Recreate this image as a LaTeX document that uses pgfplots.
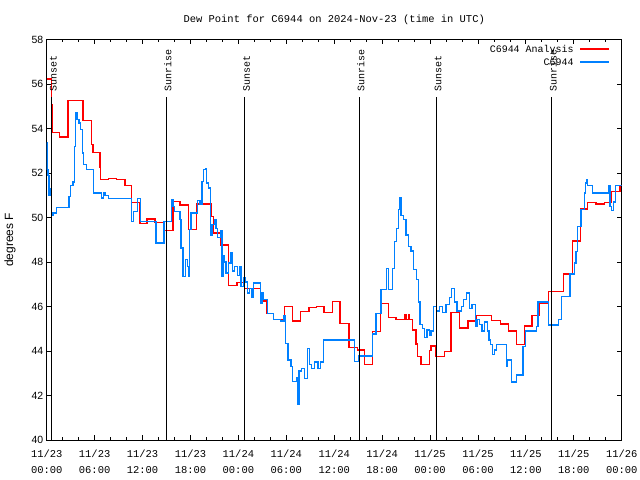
\documentclass[border=0pt]{standalone}
\usepackage{pgfplots}
\pgfplotsset{compat=1.18}
\usepackage{fontspec}
\setmainfont{Liberation Sans}
\newfontfamily\monofont{Liberation Mono}
\definecolor{obsblue}{RGB}{0,128,255}
\begin{document}
\begin{tikzpicture}
\path[use as bounding box] (0bp,0bp) rectangle (640bp,480bp);
\begin{axis}[
  at={(46.7bp,40bp)}, anchor=south west,
  scale only axis, width=575bp, height=400.5bp,
  xmin=0, xmax=72, ymin=40, ymax=58,
  xtick={0,6,...,72},
  xticklabels={{11/23\\00:00},{11/23\\06:00},{11/23\\12:00},{11/23\\18:00},{11/24\\00:00},{11/24\\06:00},{11/24\\12:00},{11/24\\18:00},{11/25\\00:00},{11/25\\06:00},{11/25\\12:00},{11/25\\18:00},{11/26\\00:00}},
  xticklabel style={font=\monofont\fontsize{10.5}{16}\selectfont, align=center, yshift=-6bp},
  minor x tick num=2,
  ytick={40,42,...,58},
  yticklabel style={font=\fontsize{10.5}{12}\selectfont},
  /pgf/number format/assume math mode=true,
  tick align=inside,
  major tick length=5bp, minor tick length=3bp,
  tick style={black, line width=0.8bp},
  axis line style={black, line width=1bp},
  ylabel={degrees F},
  ylabel style={font=\fontsize{12}{14}\selectfont, at={(axis description cs:-0.0638,0.5)}, anchor=center},
  title={Dew Point for C6944 on 2024-Nov-23 (time in UTC)},
  title style={font=\monofont\fontsize{10.5}{12}\selectfont, at={(axis description cs:0.5,1)}, anchor=center, yshift=13.5bp},
  legend style={at={(axis description cs:0.9797,0.989)}, anchor=north east, draw=none, fill=none,
    inner sep=0pt, row sep=3bp, column sep=6bp,
    font=\monofont\fontsize{10}{12}\selectfont,
    nodes={inner sep=0pt, text height=8bp, text depth=2bp}},
  legend cell align=right,
  legend plot pos=right,
  legend image code/.code={\draw[#1] (0bp,0bp) -- (29bp,0bp);},
]
\addplot[red, line width=1.3bp, const plot] coordinates {
(0,56.23) (0.6,55.07) (0.72,53.83) (1.63,53.62) (2.68,55.27) (4.56,54.35) (5.6,53.27) (5.8,52.93)
(6.66,52.27) (6.75,51.7) (7.7,51.74) (8.75,51.7) (9.8,51.43) (10.64,50.68) (11.69,49.72) (12.57,49.93)
(13.57,49.76) (14.6,49.4) (15.8,50.72) (16.7,50.56) (17.76,49.45) (18.72,50.6) (20.57,50.05) (20.9,49.3)
(21.74,48.77) (22.8,46.93) (23.84,47.08) (24.75,46.8) (26.77,46.25) (27.6,45.7) (28.44,45.4) (29.78,46.0)
(30.79,45.35) (31.79,45.79) (32.84,45.97) (33.8,46.0) (34.72,45.73) (35.77,46.23) (36.73,45.25) (37.86,44.17)
(38.92,44.05) (39.75,43.38) (40.8,44.87) (41.76,46.12) (42.76,45.5) (43.73,45.4) (44.77,45.65) (44.99,45.4)
(45.3,45.65) (45.45,45.4) (45.83,44.95) (46.24,44.32) (46.45,43.75) (46.87,43.38) (47.9,44.03) (48.13,44.23)
(48.76,43.75) (49.8,43.97) (50.64,45.73) (51.69,45.03) (52.74,45.35) (53.78,45.58) (55.67,45.37) (56.84,45.22)
(57.84,44.9) (58.81,44.3) (59.85,45.13) (60.78,45.6) (61.74,46.15) (62.79,46.68) (64.75,47.46) (65.8,48.95)
(66.85,50.38) (67.73,50.68) (68.77,50.6) (69.83,50.68) (70.75,51.17) (71.8,51.43) (72,51.43)
};
\addlegendentry{C6944 Analysis}
\addplot[obsblue, line width=1.3bp, const plot] coordinates {
(0,53.35) (0.04,52.15) (0.15,51.9) (0.3,51.0) (0.45,51.3) (0.59,50.1) (0.8,50.2) (1.21,50.45)
(2.8,50.95) (2.97,51.43) (3.3,51.6) (3.52,53.2) (3.64,54.7) (3.81,54.4) (4.06,54.25) (4.23,53.95)
(4.48,52.9) (4.65,52.37) (4.98,52.15) (5.82,51.1) (6.87,50.87) (7.08,51.1) (7.3,51.0) (7.7,50.84)
(10.64,49.82) (10.85,50.28) (11.35,50.84) (11.77,49.82) (13.7,48.85) (14.7,49.82) (15.67,50.8) (15.8,50.5)
(15.96,50.28) (16.71,49.9) (16.8,48.63) (17.05,47.35) (17.34,48.1) (17.6,47.8) (17.76,47.35) (17.88,49.45)
(18.06,50.2) (18.89,50.75) (19.2,50.6) (19.44,51.62) (19.65,52.15) (19.85,52.2) (19.98,51.55) (20.27,51.33)
(20.48,49.2) (20.7,49.7) (20.99,49.9) (21.2,49.5) (21.4,49.1) (21.74,49.4) (21.95,47.35) (22.1,48.3)
(22.24,48.0) (22.46,47.5) (22.79,47.95) (23.08,48.4) (23.3,47.6) (23.5,47.8) (23.92,47.4) (24.1,47.8)
(24.34,46.9) (24.6,47.3) (24.88,47.1) (25.1,46.6) (25.42,46.8) (25.7,46.4) (25.93,47.05) (26.77,46.15)
(26.95,46.6) (27.18,46.3) (27.68,45.7) (28.44,45.4) (29.28,45.35) (29.7,45.6) (29.87,44.35) (30.2,43.6)
(30.6,43.3) (30.75,42.62) (31.29,42.8) (31.45,41.62) (31.58,43.1) (31.88,43.22) (32.3,42.75) (32.63,44.1)
(32.88,43.4) (33.13,43.22) (33.55,43.5) (33.97,43.22) (34.3,43.5) (34.64,44.5) (38.58,43.52) (39.12,43.78)
(40.8,44.77) (41.22,45.7) (41.85,46.75) (42.56,47.72) (42.77,46.75) (43.31,47.72) (43.52,48.92) (43.81,49.5)
(44.02,50.35) (44.14,50.87) (44.36,50.1) (44.65,49.9) (44.98,49.22) (45.28,48.7) (45.62,48.5) (45.95,47.65)
(46.33,47.2) (46.54,46.2) (46.75,45.2) (47.08,45.0) (47.3,44.6) (47.63,44.95) (47.9,44.7) (48.13,44.9)
(48.46,46.0) (48.84,45.8) (49.17,46.0) (49.6,45.73) (50.0,46.1) (50.43,46.4) (50.72,46.82) (51.05,46.2)
(51.39,45.8) (51.9,46.0) (52.15,46.3) (52.53,46.6) (52.95,45.9) (53.24,46.1) (53.66,45.1) (53.87,45.4)
(54.2,45.2) (54.5,44.9) (54.83,45.3) (55.17,44.9) (55.38,44.5) (55.58,44.3) (55.79,43.83) (56.08,44.05)
(56.3,44.3) (57.55,43.3) (57.68,43.6) (58.18,42.6) (58.81,42.92) (59.65,44.2) (59.94,44.9) (61.32,45.1)
(61.53,46.2) (62.79,45.17) (64.05,45.4) (64.46,46.45) (65.51,47.46) (66.06,47.95) (66.27,48.48) (66.48,49.58)
(66.89,50.35) (67.31,51.1) (67.48,51.55) (67.6,51.7) (67.73,51.43) (68.32,51.1) (70.33,51.43) (70.53,50.5)
(70.75,50.3) (70.96,50.7) (71.25,51.43) (72,51.43)
};
\addlegendentry{C6944}
\addplot[black, line width=1bp, forget plot] coordinates {(0.63,40) (0.63,55.43)};
\addplot[black, line width=1bp, forget plot] coordinates {(14.98,40) (14.98,55.43)};
\addplot[black, line width=1bp, forget plot] coordinates {(24.82,40) (24.82,55.43)};
\addplot[black, line width=1bp, forget plot] coordinates {(39.12,40) (39.12,55.43)};
\addplot[black, line width=1bp, forget plot] coordinates {(48.82,40) (48.82,55.43)};
\addplot[black, line width=1bp, forget plot] coordinates {(63.2,40) (63.2,55.43)};
\node[rotate=90, anchor=west, inner sep=0pt, font=\monofont\fontsize{10}{12}\selectfont] at (axis cs:0.83,55.67) {Sunset};
\node[rotate=90, anchor=west, inner sep=0pt, font=\monofont\fontsize{10}{12}\selectfont] at (axis cs:15.18,55.67) {Sunrise};
\node[rotate=90, anchor=west, inner sep=0pt, font=\monofont\fontsize{10}{12}\selectfont] at (axis cs:25.02,55.67) {Sunset};
\node[rotate=90, anchor=west, inner sep=0pt, font=\monofont\fontsize{10}{12}\selectfont] at (axis cs:39.32,55.67) {Sunrise};
\node[rotate=90, anchor=west, inner sep=0pt, font=\monofont\fontsize{10}{12}\selectfont] at (axis cs:49.02,55.67) {Sunset};
\node[rotate=90, anchor=west, inner sep=0pt, font=\monofont\fontsize{10}{12}\selectfont] at (axis cs:63.4,55.67) {Sunrise};
\end{axis}
\end{tikzpicture}
\end{document}
